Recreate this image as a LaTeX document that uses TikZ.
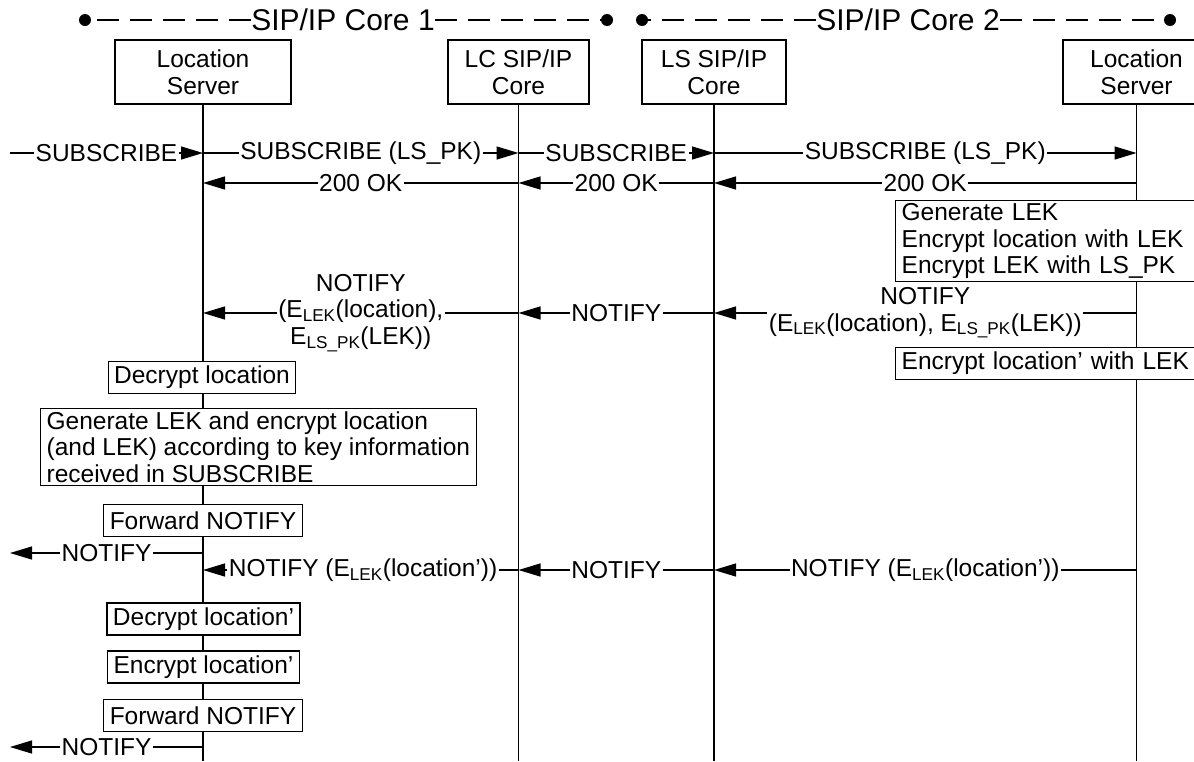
\documentclass[tikz,border=0pt]{standalone}
\usepackage{fontspec}
\setmainfont{Liberation Sans}
\usetikzlibrary{arrows.meta}

\tikzset{
  entity/.style={draw, fill=white, align=center, minimum height=64pt, inner sep=2pt},
  note/.style={draw, fill=white, align=left, inner xsep=6pt, inner ysep=3pt},
  onenote/.style={note, minimum height=32pt},
  msg/.style={-{Triangle[length=22pt,width=13pt]}},
  lbl/.style={fill=white, inner sep=1.5pt, align=center},
  core/.style={dash pattern=on 22pt off 11pt},
  dot/.style={circle, fill, inner sep=0pt, minimum size=12pt},
  hdr/.style={fill=white, inner sep=0pt, font=\fontsize{30}{32}\selectfont}
}

\begin{document}
\begin{tikzpicture}[x=1pt, y=-1pt, line width=1.3pt,
  every node/.append style={font=\fontsize{24.5}{26.5}\selectfont}]

  \path[use as bounding box, fill=white] (0,0) rectangle (1194,761);

  % domains
  \node[dot] (c1l) at (85,20) {};
  \node[dot] (c1r) at (607,20) {};
  \node[hdr] (c1) at (343,20) {SIP/IP Core 1};
  \node[dot] (c2l) at (642,20) {};
  \node[dot] (c2r) at (1170,20) {};
  \node[hdr] (c2) at (908,20) {SIP/IP Core 2};
  \draw[core] (c1.west) -- (c1l.center);
  \draw[core] (c1.east) -- (c1r.center);
  \draw[core] (c2.west) -- (c2l.center);
  \draw[core] (c2.east) -- (c2r.center);

  % entities
  \node[entity, minimum width=176pt] (lsA) at (203,72) {Location\\Server};
  \node[entity, minimum width=141pt] (lcA) at (518.5,72) {LC SIP/IP\\Core};
  \node[entity, minimum width=144pt] (lsB) at (714,72) {LS SIP/IP\\Core};
  \node[entity, minimum width=147pt] (srvB) at (1136.5,72) {Location\\Server};

  % rows
  \coordinate (lft) at (10,0);
  \coordinate (bot) at (0,761);
  \coordinate (r1) at (0,153);
  \coordinate (r2) at (0,183);
  \coordinate (r3) at (0,313);
  \coordinate (r4) at (0,553);
  \coordinate (r5) at (0,570);
  \coordinate (r6) at (0,747);

  % lifelines
  \draw (lsA.south) -- (lsA.south |- bot);
  \draw (lcA.south) -- (lcA.south |- bot);
  \draw (lsB.south) -- (lsB.south |- bot);
  \draw (srvB.south) -- (srvB.south |- bot);

  % subscribe
  \draw[msg] (lft |- r1) -- node[lbl] {SUBSCRIBE} (lsA |- r1);
  \draw[msg] (lsA |- r1) -- node[lbl] {SUBSCRIBE (LS\_PK)} (lcA |- r1);
  \draw[msg] (lcA |- r1) -- node[lbl] {SUBSCRIBE} (lsB |- r1);
  \draw[msg] (lsB |- r1) -- node[lbl] {SUBSCRIBE (LS\_PK)} (srvB |- r1);

  \draw[msg] (srvB |- r2) -- node[lbl] {200 OK} (lsB |- r2);
  \draw[msg] (lsB |- r2) -- node[lbl] {200 OK} (lcA |- r2);
  \draw[msg] (lcA |- r2) -- node[lbl] {200 OK} (lsA |- r2);

  \node[note, anchor=north west, text width=300pt] (gen) at (895,200)
    {Generate LEK\\Encrypt location with LEK\\Encrypt LEK with LS\_PK};

  % notify
  \draw[msg] (srvB |- r3) -- node[lbl] {NOTIFY\\(E\textsubscript{LEK}(location), E\textsubscript{LS\_PK}(LEK))} (lsB |- r3);
  \draw[msg] (lsB |- r3) -- node[lbl] {NOTIFY} (lcA |- r3);
  \draw[msg] (lcA |- r3) -- node[lbl] {NOTIFY\\(E\textsubscript{LEK}(location),\\E\textsubscript{LS\_PK}(LEK))} (lsA |- r3);

  \node[onenote, anchor=north west, text width=300pt] (enc) at (895,347) {Encrypt location’ with LEK};
  \node[onenote] (dec) at (202,377.5) {Decrypt location};
  \node[note, anchor=north west] (keyinfo) at (40,408)
    {Generate LEK and encrypt location\\(and LEK) according to key information\\received in SUBSCRIBE};
  \node[onenote] (fwd) at (203,520.5) {Forward NOTIFY};

  \draw[msg] (lsA |- r4) -- node[lbl] {NOTIFY} (lft |- r4);
  \draw[msg] (srvB |- r5) -- node[lbl] {NOTIFY (E\textsubscript{LEK}(location’))} (lsB |- r5);
  \draw[msg] (lsB |- r5) -- node[lbl] {NOTIFY} (lcA |- r5);
  \draw[msg] (lcA |- r5) -- node[lbl, pos=0.925, anchor=west] {NOTIFY (E\textsubscript{LEK}(location’))} (lsA |- r5);

  \node[onenote] (dec2) at (203.5,619) {Decrypt location’};
  \node[onenote] (enc2) at (203.5,667) {Encrypt location’};
  \node[onenote] (fwd2) at (203,715.5) {Forward NOTIFY};

  \draw[msg] (lsA |- r6) -- node[lbl] {NOTIFY} (lft |- r6);

\end{tikzpicture}
\end{document}
